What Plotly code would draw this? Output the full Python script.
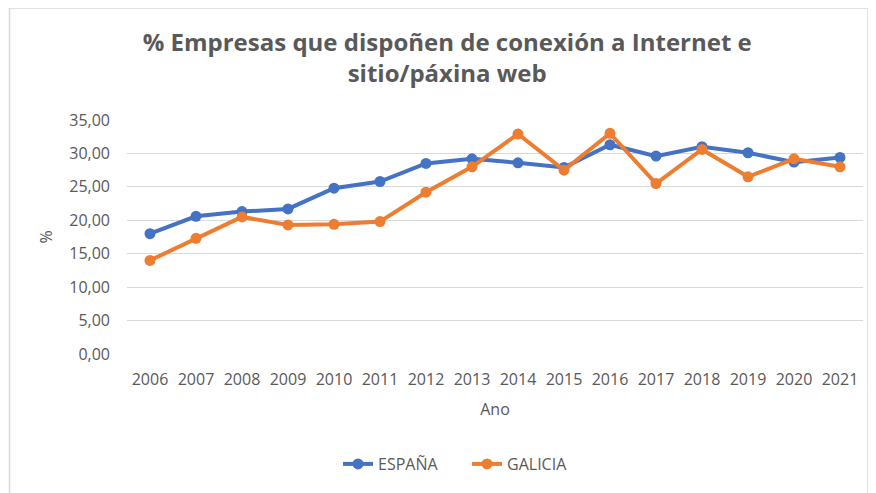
import plotly.graph_objects as go

years = ["2006", "2007", "2008", "2009", "2010", "2011", "2012", "2013",
         "2014", "2015", "2016", "2017", "2018", "2019", "2020", "2021"]
espana = [18.0, 20.6, 21.3, 21.7, 24.8, 25.8, 28.5, 29.2,
          28.6, 27.9, 31.3, 29.6, 31.0, 30.1, 28.7, 29.4]
galicia = [14.0, 17.3, 20.5, 19.3, 19.4, 19.8, 24.2, 28.0,
           32.9, 27.5, 33.0, 25.5, 30.6, 26.5, 29.2, 28.0]
y_ticks = [0, 5, 10, 15, 20, 25, 30, 35]

BLUE = "#4472C4"
ORANGE = "#ED7D31"
TXT = "#595959"
FONT = "Open Sans"

W, H = 868, 485
L, R, T, B = 119, 13, 112, 139
PW, PH = W - L - R, H - T - B


def px_x(p):
    return (p - L) / PW


def px_y(p):
    return (H - B - p) / PH


fig = go.Figure()
fig.add_trace(go.Scatter(x=years, y=espana, name="ESPAÑA", mode="lines+markers",
                         line=dict(color=BLUE, width=4), marker=dict(size=11, color=BLUE)))
fig.add_trace(go.Scatter(x=years, y=galicia, name="GALICIA", mode="lines+markers",
                         line=dict(color=ORANGE, width=4), marker=dict(size=11, color=ORANGE)))

fig.update_layout(
    width=W, height=H,
    margin=dict(l=L, r=R, t=T, b=B, autoexpand=False),
    paper_bgcolor="white", plot_bgcolor="white",
    separators=", ",
    font=dict(family=FONT, color=TXT, size=16),
    title=dict(text="% Empresas que dispoñen de conexión a Internet e<br>sitio/páxina web",
               x=0.506, xanchor="center", y=0.912, yanchor="middle", yref="container",
               font=dict(family=FONT, size=24, color=TXT, weight="bold")),
    xaxis=dict(type="category", range=[-0.5, len(years) - 0.5],
               showgrid=False, showline=False, ticks="",
               ticklabelstandoff=14, automargin=False,
               title=dict(text="Ano", font=dict(size=16, color=TXT), standoff=14),
               tickfont=dict(size=16, color=TXT)),
    yaxis=dict(range=[0, 35], tickvals=y_ticks, tickformat=".2f",
               showgrid=True, gridcolor="#D9D9D9", gridwidth=1.3,
               zeroline=False, showline=False, ticks="", ticklabelstandoff=16,
               automargin=False,
               title=dict(text="%", font=dict(size=16, color=TXT), standoff=12),
               tickfont=dict(size=16, color=TXT)),
    legend=dict(orientation="h", x=0.462, xanchor="center", y=px_y(456), yanchor="middle",
                font=dict(size=16, color=TXT), tracegroupgap=0,
                entrywidth=84, entrywidthmode="pixels"),
    showlegend=True,
)

fig.add_shape(type="rect", xref="paper", yref="paper",
              x0=px_x(1.5), x1=px_x(860), y0=px_y(H + 10), y1=px_y(0),
              line=dict(color="#D9D9D9", width=1.5), fillcolor="rgba(0,0,0,0)", layer="below")

fig.write_html("out.html")
